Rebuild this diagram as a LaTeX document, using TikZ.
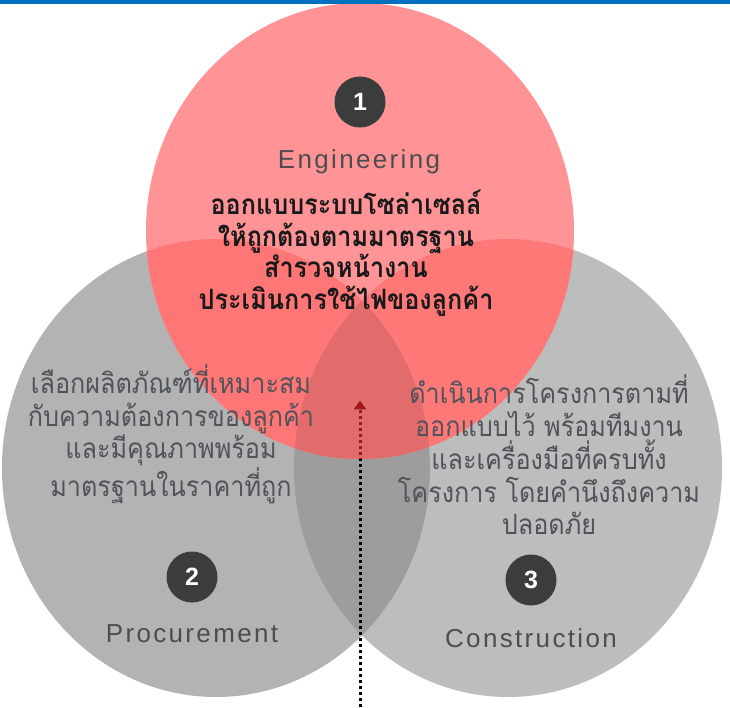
\documentclass[tikz,border=0pt]{standalone}
\usepackage{fontspec}
\setmainfont{Liberation Sans}
\newfontfamily\thaifont[Script=Thai, FakeStretch=0.9]{Loma}
\newfontfamily\labfont[LetterSpace=9]{Liberation Sans}
\usetikzlibrary{arrows.meta}
\definecolor{barblue}{HTML}{0070C0}
\definecolor{grayL}{HTML}{B3B3B3}
\definecolor{grayR}{HTML}{BCBDBD}
\definecolor{grayO}{HTML}{9D9D9D}
\definecolor{redW}{HTML}{FF9395}
\definecolor{redL}{HTML}{FF7676}
\definecolor{redR}{HTML}{FF7878}
\definecolor{redLR}{HTML}{E26B6B}
\definecolor{arrowred}{HTML}{A01818}
\definecolor{badgecol}{HTML}{3B3C3C}
\definecolor{labcol}{HTML}{4D4D4D}
\definecolor{thaigray}{HTML}{4F535A}
\tikzset{
  badge/.style={circle, fill=badgecol, minimum size=51pt, inner sep=0pt, text=white, font=\bfseries\fontsize{25}{25}\selectfont},
  lab/.style={text=labcol, font=\labfont\fontsize{26}{26}\selectfont, inner sep=0pt},
  thaibold/.style={align=center, text=black!90, font=\thaifont\bfseries\fontsize{28}{31.7}\selectfont, inner sep=0pt},
  thaigraytext/.style={align=center, text=thaigray, font=\thaifont\fontsize{28}{32.7}\selectfont, inner sep=0pt},
  dotarrow/.style={line width=3pt, dash pattern=on 3pt off 3pt, -{Triangle[width=11pt,length=8pt]}}
}
\def\ellL{(216,468) ellipse [x radius=214, y radius=229]}
\def\ellR{(508,468) ellipse [x radius=214, y radius=229]}
\def\ellT{(360,231) ellipse [x radius=214, y radius=228]}
\begin{document}
\begin{tikzpicture}[x=1pt,y=-1pt]
\useasboundingbox (0,0) rectangle (730,707);
% gray circles
\fill[grayL] \ellL;
\fill[grayR] \ellR;
\begin{scope}
  \clip \ellL;
  \fill[grayO] \ellR;
\end{scope}
% red circle and its overlaps
\fill[redW] \ellT;
\begin{scope}
  \clip \ellT;
  \fill[redL] \ellL;
  \fill[redR] \ellR;
  \clip \ellL;
  \fill[redLR] \ellR;
\end{scope}
% dotted arrow (seen through the red circle)
\coordinate (abot) at (360,707);
\coordinate (atop) at (360,401);
\draw[dotarrow, black] (abot) -- (atop);
\begin{scope}
  \clip \ellT;
  \draw[dotarrow, arrowred] (abot) -- (atop);
\end{scope}
% top bar
\fill[barblue] (0,0) rectangle (730,4);
% badges and labels
\node[badge] (b1) at (360,102) {1};
\node[lab] (l1) at (359,162) {Engineering};
\node[badge] (b2) at (192,577) {2};
\node[lab] (l2) at (192,634) {Procurement};
\node[badge] (b3) at (531,580) {3};
\node[lab] (l3) at (531,638) {Construction};
% texts
\node[thaibold] (t1) at (346,253) {ออกแบบระบบโซล่าเซลล์\\ให้ถูกต้องตามมาตรฐาน\\สำรวจหน้างาน\\ประเมินการใช้ไฟของลูกค้า};
\node[thaigraytext] (t2) at (171,434) {เลือกผลิตภัณฑ์ที่เหมาะสม\\กับความต้องการของลูกค้า\\และมีคุณภาพพร้อม\\มาตรฐานในราคาที่ถูก};
\node[thaigraytext] (t3) at (549,455) {ดำเนินการโครงการตามที่\\ออกแบบไว้ พร้อมทีมงาน\\และเครื่องมือที่ครบทั้ง\\โครงการ โดยคำนึงถึงความ\\ปลอดภัย};
\end{tikzpicture}
\end{document}
